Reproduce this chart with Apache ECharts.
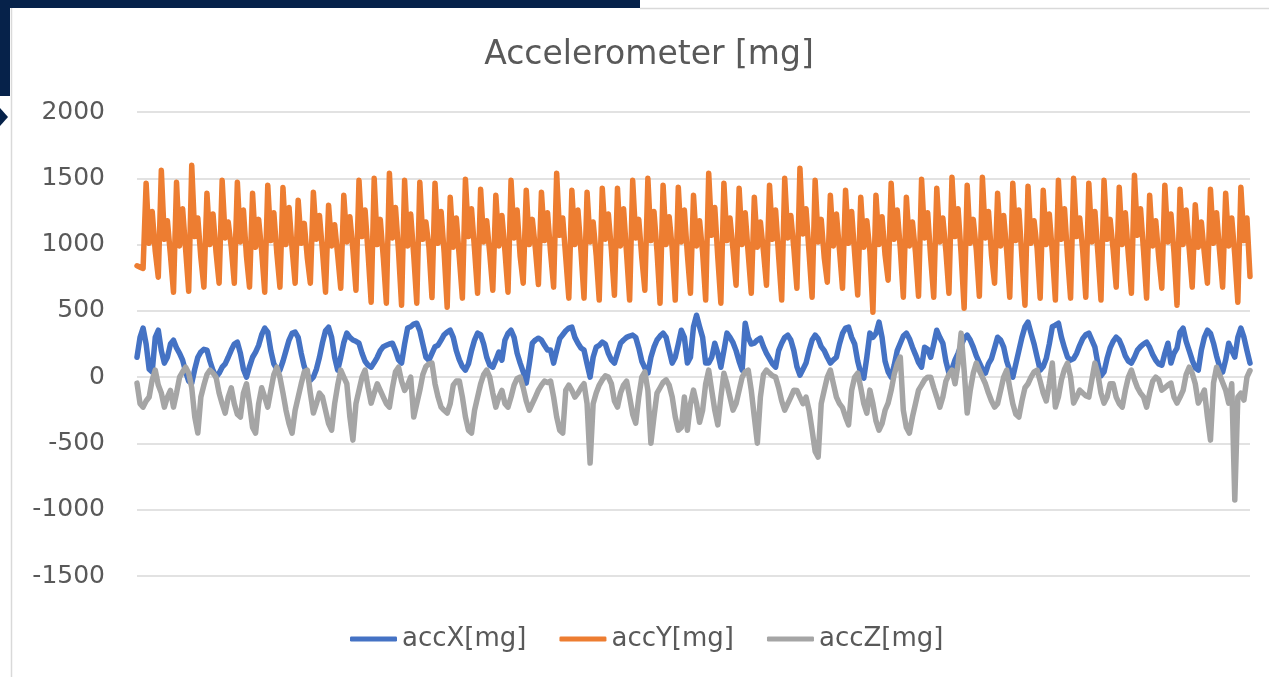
<!DOCTYPE html>
<html>
<head>
<meta charset="utf-8">
<script src="https://cdn.jsdelivr.net/npm/echarts@6/dist/echarts.min.js"></script>
<style>
html,body{margin:0;padding:0;background:#fff;}
#chart{width:1269px;height:677px;}
</style>
</head>
<body>
<div id="chart"></div>
<script>
var chartTitle = 'Accelerometer [mg]';
var seriesNames = ['accX[mg]', 'accY[mg]', 'accZ[mg]'];
var yTicks = { min: -1500, max: 2000, interval: 500 };

var accX = [150,
300,370,250,60,40,
300,354,200,106,150,
250,279,220,180,128,
40,-30,-45,60,150,
190,210,204,120,50,
0,30,75,100,150,
204,250,264,180,60,
0,80,150,189,240,
320,370,340,200,100,
60,53,120,200,280,
330,340,300,180,80,
20,-23,0,60,150,
260,350,377,300,150,
53,150,260,332,300,
280,270,256,180,120,
90,75,110,150,200,
230,240,250,256,200,
130,106,250,370,380,
400,407,350,250,150,
128,180,230,241,280,
320,340,354,300,200,
130,80,53,100,200,
280,332,320,250,150,
90,75,130,189,128,
280,330,354,300,180,
106,40,-45,100,256,
280,294,280,240,204,
204,106,200,290,320,
350,370,377,300,256,
220,204,100,0,150,
226,240,264,250,180,
130,106,180,256,280,
300,310,317,300,220,
120,70,30,150,226,
280,310,332,300,200,
106,150,250,354,300,
106,150,380,467,380,
300,106,106,150,256,
180,75,200,332,300,
260,200,120,53,407,
300,250,256,280,294,
230,180,140,100,75,
200,256,300,317,280,
200,80,15,60,106,
200,280,317,290,230,
200,150,106,130,150,
250,330,370,377,300,
250,120,30,-8,150,
332,300,330,415,300,
120,40,0,90,200,
256,310,332,290,226,
170,110,75,226,210,
150,250,354,300,256,
120,30,60,130,180,
240,290,317,280,226,
160,110,60,30,100,
140,220,301,280,226,
120,50,0,100,200,
300,380,415,330,250,
150,53,80,140,250,
380,392,407,300,220,
150,128,140,180,240,
290,320,332,280,226,
100,10,40,140,220,
270,301,280,226,160,
120,106,150,204,230,
250,264,226,170,128,
100,90,180,256,106,
180,219,340,370,270,
200,128,70,53,204,
300,354,330,256,160,
80,38,130,256,200,
151,300,370,301,200,
106];

var accY = [840,
830,820,1463,1010,1250,
950,754,1560,1040,1180,
920,641,1470,990,1270,
960,648,1598,1060,1200,
900,679,1387,1000,1230,
940,709,1485,1050,1170,
980,709,1470,1020,1260,
910,679,1387,980,1190,
950,641,1448,1030,1240,
930,679,1430,1000,1280,
970,709,1335,1010,1160,
900,709,1395,1040,1220,
950,641,1297,990,1150,
920,671,1372,1020,1210,
960,656,1485,1060,1260,
930,565,1500,1000,1190,
900,558,1538,1050,1280,
950,543,1485,990,1230,
920,558,1470,1040,1170,
980,600,1463,1010,1250,
940,528,1357,980,1200,
900,596,1493,1060,1270,
960,633,1417,1020,1180,
930,656,1372,990,1220,
950,641,1485,1050,1260,
910,709,1410,1000,1190,
970,699,1395,1030,1240,
940,679,1538,1070,1200,
900,596,1410,1000,1260,
950,596,1395,1020,1170,
920,581,1425,1040,1230,
960,618,1425,990,1270,
930,581,1485,1050,1190,
900,656,1500,1030,1250,
950,558,1448,1000,1210,
970,581,1433,1020,1260,
920,633,1372,990,1180,
940,581,1538,1070,1280,
900,558,1463,1030,1200,
960,694,1425,1000,1240,
930,633,1357,980,1170,
950,694,1448,1040,1260,
910,581,1500,1050,1220,
970,671,1576,1080,1270,
940,603,1485,1020,1190,
900,716,1372,990,1230,
960,671,1410,1010,1250,
930,620,1357,980,1180,
950,490,1372,1000,1210,
920,731,1463,1040,1260,
970,603,1357,990,1170,
940,610,1493,1050,1240,
900,603,1425,1020,1200,
950,633,1508,1060,1270,
930,520,1448,1010,1190,
960,610,1508,1050,1250,
920,709,1387,990,1220,
950,603,1463,1030,1260,
900,543,1440,1010,1180,
970,596,1410,1000,1230,
940,581,1485,1040,1270,
910,596,1500,1060,1200,
950,603,1463,1020,1250,
930,581,1485,1040,1190,
960,679,1433,1000,1240,
920,633,1523,1070,1270,
950,596,1372,990,1180,
900,671,1448,1020,1230,
940,543,1417,1000,1260,
970,679,1300,980,1170,
930,709,1417,1010,1240,
950,679,1387,990,1200,
920,565,1433,1030,1200,
760];

var accZ = [-45,
-200,-226,-180,-150,-20,
53,-60,-120,-226,-150,
-100,-226,-120,0,40,
75,30,-80,-300,-422,
-150,-60,20,53,30,
0,-120,-200,-271,-150,
-80,-200,-280,-301,-120,
-50,-200,-380,-422,-200,
-80,-150,-226,-100,20,
75,0,-120,-250,-350,
-422,-250,-150,-50,40,
53,-120,-271,-200,-120,
-150,-250,-350,-400,-200,
-60,53,0,-50,-300,
-475,-200,-100,0,53,
-80,-196,-120,-50,-100,
-150,-200,-226,-80,40,
75,-30,-100,-60,0,
-301,-200,-100,20,80,
100,106,-50,-150,-226,
-250,-271,-200,-60,-30,
-30,-150,-300,-400,-422,
-250,-150,-50,20,53,
0,-120,-226,-150,-100,
-200,-226,-150,-60,-10,
0,-80,-180,-249,-200,
-150,-98,-60,-30,-40,
-30,-150,-300,-400,-422,
-98,-60,-100,-150,-120,
-80,-50,-200,-648,-200,
-120,-60,-20,10,0,
-50,-180,-226,-120,-60,
-30,-150,-280,-347,-150,
0,40,-100,-498,-300,
-120,-80,-40,-20,-60,
-150,-300,-400,-380,-150,
-400,-200,-98,-200,-340,
-250,-50,53,-100,-250,
-360,-150,30,-50,-150,
-249,-200,-100,0,40,
53,-100,-300,-498,-150,
20,53,30,10,0,
-80,-180,-249,-200,-150,
-98,-100,-150,-200,-150,
-250,-400,-560,-603,-200,
-98,0,53,-50,-150,
-200,-230,-300,-360,-100,
0,30,-80,-200,-271,
-98,-200,-330,-400,-350,
-250,-196,-100,20,100,
151,-250,-380,-422,-300,
-200,-98,-60,-20,0,
0,-80,-150,-226,-150,
-30,20,53,-50,100,
332,50,-271,-100,30,
106,50,0,-50,-120,
-180,-226,-200,-100,0,
53,-80,-200,-280,-301,
-180,-80,-50,0,40,
53,-30,-120,-180,-50,
106,-226,-150,-20,60,
106,0,-196,-150,-98,
-120,-140,-150,-20,106,
20,-120,-196,-150,-50,
-50,-150,-200,-226,-100,
0,53,-20,-80,-120,
-150,-226,-120,-30,0,
-20,-98,-80,-60,-45,
-150,-196,-150,-100,20,
75,30,-50,-196,-150,
-98,-300,-475,-45,75,
20,-40,-98,-196,-50,
-927,-150,-120,-173,0,
50];

var categories = [];
for (var i = 0; i < accY.length; i++) categories.push(String(i + 1));

var colors = ['#4472C4', '#ED7D31', '#A5A5A5'];
var navy = '#06224a';

var chart = echarts.init(document.getElementById('chart'), null, { renderer: 'canvas' });
function makeSeries(name, data, color, z) {
  return {
    name: name,
    type: 'line',
    data: data,
    showSymbol: false,
    symbol: 'none',
    z: z,
    itemStyle: { color: color },
    lineStyle: { color: color, width: 5.5, join: 'round', cap: 'round' },
    emphasis: { disabled: true }
  };
}
chart.setOption({
  animation: false,
  backgroundColor: '#ffffff',
  color: colors,
  title: {
    text: chartTitle,
    left: 644,
    top: 34,
    textAlign: 'center',
    textStyle: { fontFamily: 'DejaVu Sans', fontSize: 33, fontWeight: 'normal', color: '#595959' }
  },
  graphic: [
    { type: 'rect', shape: { x: 0, y: 0, width: 640, height: 8 }, style: { fill: navy } },
    { type: 'rect', shape: { x: 0, y: 0, width: 10, height: 96 }, style: { fill: navy } },
    { type: 'polygon', shape: { points: [[0, 108], [8, 117], [0, 126]] }, style: { fill: navy } },
    { type: 'line', shape: { x1: 11.5, y1: 8, x2: 11.5, y2: 677 }, style: { stroke: '#d9d9d9', lineWidth: 1.5 } },
    { type: 'line', shape: { x1: 640, y1: 8.5, x2: 1269, y2: 8.5 }, style: { stroke: '#d9d9d9', lineWidth: 1.5 } }
  ],
  legend: {
    data: seriesNames,
    left: 345,
    top: 621,
    itemWidth: 47,
    itemHeight: 5,
    itemGap: 33,
    icon: 'roundRect',
    textStyle: { fontFamily: 'DejaVu Sans', fontSize: 26, color: '#595959' }
  },
  grid: { left: 137, right: 19, top: 112, bottom: 101, containLabel: false },
  xAxis: {
    type: 'category',
    data: categories,
    boundaryGap: false,
    axisLine: { show: false },
    axisTick: { show: false },
    axisLabel: { show: false },
    splitLine: { show: false }
  },
  yAxis: {
    type: 'value',
    min: yTicks.min,
    max: yTicks.max,
    interval: yTicks.interval,
    axisLine: { show: false },
    axisTick: { show: false },
    axisLabel: {
      fontFamily: 'DejaVu Sans', fontSize: 25, color: '#595959', margin: 32,
      formatter: function (v) { return String(v); }
    },
    splitLine: { lineStyle: { color: '#d9d9d9', width: 1.5 } }
  },
  series: [
    makeSeries(seriesNames[0], accX, colors[0], 2),
    makeSeries(seriesNames[1], accY, colors[1], 3),
    makeSeries(seriesNames[2], accZ, colors[2], 4)
  ]
});
</script>
</body>
</html>
